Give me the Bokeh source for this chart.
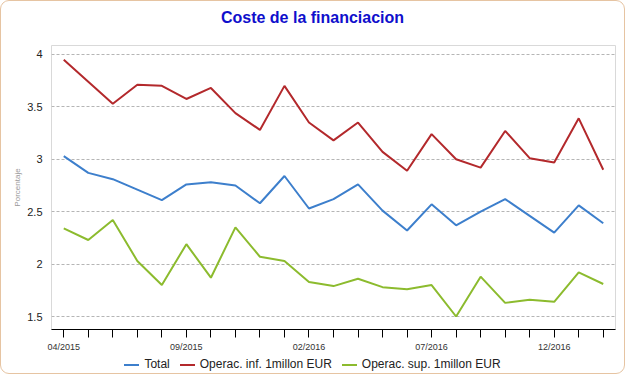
from bokeh.plotting import figure
from bokeh.models import FixedTicker, Range1d, Div
from bokeh.layouts import column
from bokeh.embed import file_html
from bokeh.resources import INLINE

months = ["04/2015", "05/2015", "06/2015", "07/2015", "08/2015", "09/2015", "10/2015",
          "11/2015", "12/2015", "01/2016", "02/2016", "03/2016", "04/2016", "05/2016",
          "06/2016", "07/2016", "08/2016", "09/2016", "10/2016", "11/2016", "12/2016",
          "01/2017", "02/2017"]
labeled_months = ["04/2015", "09/2015", "02/2016", "07/2016", "12/2016"]

total = [3.03, 2.87, 2.81, 2.71, 2.61, 2.76, 2.78, 2.75, 2.58, 2.84, 2.53, 2.62,
         2.76, 2.51, 2.32, 2.57, 2.37, 2.50, 2.62, 2.46, 2.30, 2.56, 2.39]
inf_1m = [3.95, 3.74, 3.53, 3.71, 3.70, 3.575, 3.68, 3.44, 3.28, 3.70, 3.35, 3.18,
          3.35, 3.07, 2.89, 3.24, 3.00, 2.92, 3.27, 3.01, 2.97, 3.39, 2.90]
sup_1m = [2.34, 2.23, 2.42, 2.03, 1.80, 2.19, 1.87, 2.35, 2.07, 2.03, 1.83, 1.79,
          1.86, 1.78, 1.76, 1.80, 1.50, 1.88, 1.63, 1.66, 1.64, 1.92, 1.81]

title_text = "Coste de la financiacion"
series_names = ["Total", "Operac. inf. 1millon EUR", "Operac. sup. 1millon EUR"]
y_ticks = [1.5, 2, 2.5, 3, 3.5, 4]
y_tick_labels = ["1.5", "2", "2.5", "3", "3.5", "4"]

colors = ["#3d7fcc", "#b3292c", "#8cbb2e"]
FONT = "Liberation Sans"

x = list(range(len(months)))

W = 623
title_div = Div(
    text=f'<div style="width:{W}px;height:35px;display:flex;justify-content:center;align-items:center;'
         f'font-family:\'{FONT}\';font-size:16px;font-weight:bold;color:#0f0fcc;">{title_text}</div>',
    width=W, height=35, margin=0,
)

p = figure(width=W, height=318, output_backend="svg", toolbar_location=None,
           x_range=Range1d(-0.5, len(months) - 0.5), y_range=Range1d(1.376, 4.085),
           min_border_left=50, min_border_right=9, min_border_top=9, min_border_bottom=24,
           margin=0)
p.title.text = ""

p.outline_line_color = "#d9d9d9"
p.background_fill_color = "white"
p.border_fill_color = "white"

for ys, c in zip([total, inf_1m, sup_1m], colors):
    p.line(x, ys, line_color=c, line_width=2)

# x axis
p.xaxis.ticker = FixedTicker(ticks=x)
p.xaxis.major_label_overrides = {i: (m if m in labeled_months else "") for i, m in enumerate(months)}
p.xaxis.major_tick_in = 0
p.xaxis.major_tick_out = 8
p.xaxis.minor_tick_line_color = None
p.xaxis.axis_line_color = "black"
p.xaxis.major_tick_line_color = "black"
p.xaxis.major_label_text_font = FONT
p.xaxis.major_label_text_font_size = "9px"
p.xaxis.major_label_text_font_style = "normal"
p.xaxis.major_label_text_color = "#333333"
p.xaxis.major_label_standoff = 4
p.xgrid.grid_line_color = None

# y axis
p.yaxis.ticker = FixedTicker(ticks=y_ticks)
p.yaxis.major_label_overrides = {t: l for t, l in zip(y_ticks, y_tick_labels)}
p.yaxis.axis_line_color = None
p.yaxis.major_tick_line_color = None
p.yaxis.major_tick_in = 0
p.yaxis.major_tick_out = 0
p.yaxis.minor_tick_line_color = None
p.yaxis.minor_tick_out = 0
p.yaxis.major_label_text_font = FONT
p.yaxis.major_label_text_font_size = "11px"
p.yaxis.major_label_text_color = "#222222"
p.yaxis.major_label_standoff = 9
p.yaxis.axis_label = "Porcentaje"
p.yaxis.axis_label_text_font = FONT
p.yaxis.axis_label_text_font_size = "8px"
p.yaxis.axis_label_text_font_style = "normal"
p.yaxis.axis_label_text_color = "#999999"
p.yaxis.axis_label_standoff = 2
p.ygrid.grid_line_color = "#b5b5b5"
p.ygrid.grid_line_dash = "3 2"

# legend (HTML) below the plot
items_html = "".join(
    f'<span style="display:inline-flex;align-items:center;margin:0 5px;">'
    f'<span style="display:inline-block;width:15px;height:2px;background:{c};margin-right:5px;"></span>'
    f'{n}</span>'
    for n, c in zip(series_names, colors)
)
legend_div = Div(
    text=f'<div style="width:{W}px;height:19px;display:flex;justify-content:center;align-items:center;'
         f'font-family:\'{FONT}\';font-size:12px;color:#222222;">{items_html}</div>',
    width=W, height=19, margin=0,
)

layout = column(title_div, p, legend_div, spacing=0, width=W + 2, height=374,
                styles={"border": "1px solid #e6c4a2", "border-radius": "9px",
                        "background": "white", "overflow": "hidden",
                        "box-sizing": "border-box"})

open("out.html", "w").write(file_html(layout, INLINE))
